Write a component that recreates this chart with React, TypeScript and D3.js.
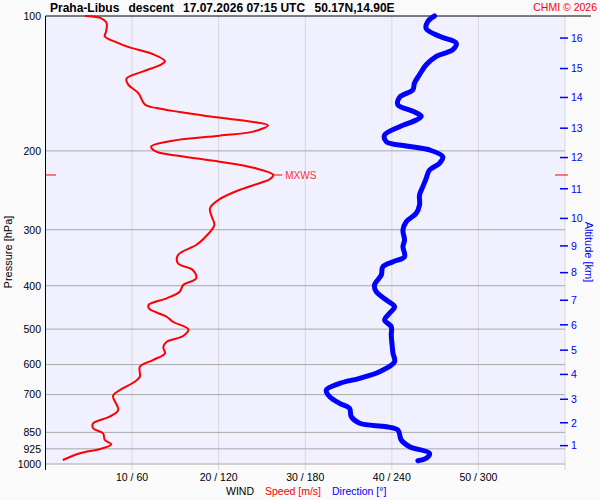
import React from "react";
import * as d3 from "d3";

// ── Sounding data ────────────────────────────────────────────
const SPEED_HPA = [
  100, 101, 103.7, 108.2, 111, 114.5, 117.5, 121.6, 126.2, 128.8, 132.9, 138, 142.3, 148.5,
  157.8, 160.5, 163.8, 168.3, 172.4, 175.4, 181.2, 185, 189.8, 195.7, 200.9, 205.4, 211.5,
  218.1, 226.4, 231.4, 236.2, 244.5, 256.5, 268.6, 280.5, 292.7, 315.1, 324.5, 341.6, 356.5,
  368.9, 385, 398.5, 412.5, 426.7, 441.7, 450.8, 469.1, 481.3, 500.5, 518.1, 533.5, 549,
  566.2, 586.1, 606.6, 638.6, 655.3, 683.8, 704.1, 757.5, 784, 811.2, 832.3, 854, 884,
  903.8, 925.9, 946.4, 979.7,
];
const SPEED_MS = [
  4.55, 6.3, 7.05, 7.0, 6.85, 8.2, 9.7, 12.4, 13.8, 13.2, 11.3, 9.35, 9.55, 10.7,
  11.5, 12.8, 15.5, 19.7, 24.0, 25.7, 24.0, 20.1, 14.7, 12.2, 12.8, 15.5, 20.1,
  24.0, 26.3, 25.9, 24.7, 22.4, 20.1, 19.0, 19.2, 19.5, 18.2, 17.4, 15.3, 15.3,
  17.0, 17.4, 15.9, 15.5, 14.0, 11.9, 12.0, 14.0, 14.7, 16.5, 15.9, 14.0, 13.6,
  13.8, 12.4, 10.9, 10.9, 10.3, 8.6, 7.8, 8.4, 7.4, 5.5, 5.5, 6.65, 6.85,
  7.6, 6.3, 4.0, 2.0,
];

const DIR_HPA = [
  100, 102.8, 106.7, 111, 114.9, 118.9, 123, 128.5, 135.2, 141.1, 146, 151.8, 157.8, 163.2,
  167.4, 170.7, 176.6, 184.4, 190.8, 195, 199.1, 206.1, 213.2, 220.7, 230.3, 240.4, 250.9,
  264.1, 275.7, 287.9, 300.4, 316.2, 327.3, 344.6, 353.5, 362.7, 378.5, 398.5, 412.5, 430.5,
  445.6, 460.9, 477.1, 493.8, 515.4, 547.3, 566.2, 591.2, 622.3, 643.7, 660.7, 683.8, 707.6,
  732, 751.1, 784, 811.2, 825.7, 839.9, 884, 915, 946.4, 971.2, 983.2,
];
const DIR_DEG = [
  269.6, 265, 263.8, 273, 284.6, 282.3, 270.8, 263.8, 259.2, 255.7, 254.6, 245.4, 244.2, 254.6,
  260.4, 256.9, 245.4, 235, 236.2, 250, 266.1, 275.3, 273, 266.1, 263.8, 261.5, 259.2,
  259.2, 256.9, 250, 247.7, 248.8, 247.7, 248.8, 240.8, 233.8, 232.7, 228, 229.2, 236.2,
  241.9, 238.4, 235, 239.6, 239.6, 240.3, 240.8, 241.9, 231.5, 217.7, 203.8, 194.6, 196.9,
  203.8, 210.7, 211.9, 217.7, 236.2, 244.2, 246.5, 252.3, 266.1, 263.8, 258,
];

// ── Axis ticks ────────────────────────────────────────────────
const PRESSURE_TICKS = [100, 200, 300, 400, 500, 600, 700, 850, 925, 1000];
const SPEED_TICKS = [10, 20, 30, 40, 50];
const DIR_TICKS = [60, 120, 180, 240, 300];
const ALT_KM = [1, 2, 3, 4, 5, 6, 7, 8, 9, 10, 11, 12, 13, 14, 15, 16];
const ALT_HPA = [910, 809, 717, 631, 557, 489, 431, 374, 326, 283, 243, 207, 178, 152, 131, 112];

// ── Geometry ──────────────────────────────────────────────────
const W = 600;
const H = 500;
const LEFT = 45.5;
const RIGHT = 565;
const TOP = 16;
const BOTTOM = 464;
const FONT = "'Liberation Sans', Arial, sans-serif";

export default function App() {
  const y = d3.scaleLog().domain([100, 1000]).range([TOP, BOTTOM]);
  const xSpeed = d3.scaleLinear().domain([0, 60]).range([LEFT, RIGHT]);
  const xDir = d3.scaleLinear().domain([0, 360]).range([LEFT, RIGHT]);

  const speedLine = d3
    .line<number>()
    .x((d) => xSpeed(d))
    .y((_d, i) => y(SPEED_HPA[i]))
    .curve(d3.curveCatmullRom.alpha(0.5));

  const dirLine = d3
    .line<number>()
    .x((d) => xDir(d))
    .y((_d, i) => y(DIR_HPA[i]))
    .curve(d3.curveCatmullRom.alpha(0.5));

  const iMax = d3.maxIndex(SPEED_MS);
  const mxX = xSpeed(SPEED_MS[iMax]);
  const mxY = y(SPEED_HPA[iMax]);

  return (
    <svg
      width={W}
      height={H}
      style={{ position: "absolute", left: 0, top: 0, background: "#fafafa" }}
      fontFamily={FONT}
    >
      <rect x={LEFT} y={TOP} width={RIGHT - LEFT} height={BOTTOM - TOP} fill="#f0f0fe" />

      {/* vertical grid, extends a bit below the plot */}
      {[...SPEED_TICKS, 60].map((s) => (
        <line key={s} x1={xSpeed(s)} x2={xSpeed(s)} y1={TOP} y2={470} stroke="#d8d8d8" />
      ))}

      {/* pressure grid */}
      {PRESSURE_TICKS.slice(1).map((p) => (
        <line key={p} x1={LEFT} x2={RIGHT} y1={y(p)} y2={y(p)} stroke="#a8a8a8" />
      ))}

      {/* axes */}
      <line x1={LEFT} x2={LEFT} y1={TOP} y2={470} stroke="#000" />
      <line x1={LEFT} x2={591} y1={TOP} y2={TOP} stroke="#000" />

      {/* pressure labels */}
      {PRESSURE_TICKS.map((p) => (
        <text key={p} x={41} y={y(p) + 3.8} fontSize={10.5} textAnchor="end" fill="#000">
          {p}
        </text>
      ))}
      <text
        transform={`translate(12,252) rotate(-90)`}
        fontSize={11}
        textAnchor="middle"
        fill="#000"
      >
        Pressure [hPa]
      </text>

      {/* bottom labels */}
      {SPEED_TICKS.map((s, i) => (
        <text key={s} x={xSpeed(s)} y={481} fontSize={10.5} textAnchor="middle" fill="#000">
          {`${s} / ${DIR_TICKS[i]}`}
        </text>
      ))}
      <text x={226} y={495} fontSize={10.5} fill="#000">WIND</text>
      <text x={265} y={495} fontSize={10.5} fill="#ff0000">Speed [m/s]</text>
      <text x={332} y={495} fontSize={10.5} fill="#0000ff">Direction [°]</text>

      {/* altitude axis */}
      {ALT_KM.map((k, i) => (
        <g key={k}>
          <line x1={560} x2={568} y1={y(ALT_HPA[i])} y2={y(ALT_HPA[i])} stroke="#0000ff" strokeWidth={1.5} />
          <text x={571} y={y(ALT_HPA[i]) + 3.8} fontSize={10.5} fill="#0000ff">
            {k}
          </text>
        </g>
      ))}
      <text
        transform={`translate(585,252) rotate(90)`}
        fontSize={11}
        textAnchor="middle"
        fill="#0000ff"
      >
        Altitude [km]
      </text>

      {/* curves */}
      <path d={dirLine(DIR_DEG) ?? ""} fill="none" stroke="#0000ff" strokeWidth={5} strokeLinejoin="round" strokeLinecap="round" />
      <path d={speedLine(SPEED_MS) ?? ""} fill="none" stroke="#ff0000" strokeWidth={2} strokeLinejoin="round" />

      {/* max wind marker */}
      <line x1={mxX} x2={mxX + 9} y1={mxY} y2={mxY} stroke="#ff0000" />
      <text x={mxX + 12} y={mxY + 4} fontSize={10} fill="#ff3030">MXWS</text>
      <line x1={LEFT} x2={56} y1={mxY} y2={mxY} stroke="#ff0000" />
      <line x1={555} x2={568} y1={mxY} y2={mxY} stroke="#ff0000" />

      {/* title */}
      <g fontSize={12} fontWeight="bold" fill="#000">
        <text x={50} y={12}>Praha-Libus</text>
        <text x={128.5} y={12}>descent</text>
        <text x={183} y={12}>17.07.2026 07:15 UTC</text>
        <text x={314.5} y={12}>50.17N,14.90E</text>
      </g>
      <text x={597} y={11} fontSize={10.5} textAnchor="end" fill="#ff0000">
        CHMI © 2026
      </text>
    </svg>
  );
}
